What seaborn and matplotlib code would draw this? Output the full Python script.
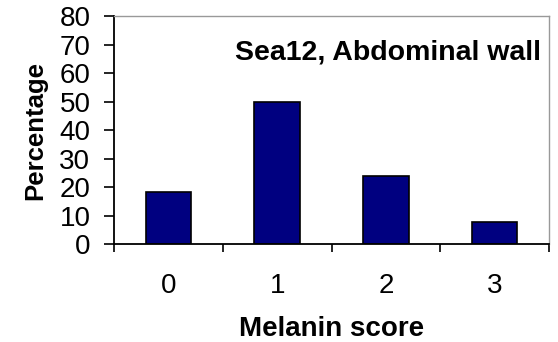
import pandas as pd
import matplotlib
matplotlib.use("Agg")
import matplotlib.pyplot as plt
import seaborn as sns
from matplotlib.ticker import FixedLocator

# data
scores = ["0", "1", "2", "3"]
percentages = [18.2, 49.8, 23.9, 7.8]

title = "Sea12, Abdominal wall"

sns.set_theme(style="white")
plt.rcParams['font.family'] = ['Liberation Sans', 'DejaVu Sans']
plt.rcParams['text.color'] = 'black'
plt.rcParams['axes.labelcolor'] = 'black'
plt.rcParams['xtick.color'] = 'black'
plt.rcParams['ytick.color'] = 'black'

df = pd.DataFrame({"score": scores, "pct": percentages})

fig = plt.figure(figsize=(5.58, 3.42), dpi=100)
ax = fig.add_axes([0.2043, 0.2865, 0.7796, 0.6667])

sns.barplot(data=df, x="score", y="pct", color="#000080", saturation=1,
            edgecolor="black", linewidth=1.2, width=0.42, ax=ax)

ax.set_ylim(0, 80)
ax.set_xlim(-0.5, len(scores) - 0.5)
ax.set_yticks(range(0, 81, 10))

# category ticks sit between the bars
ax.tick_params(axis="x", which="major", length=0, labelsize=20, pad=21)
ax.xaxis.set_minor_locator(FixedLocator([i - 0.5 for i in range(len(scores) + 1)]))
ax.tick_params(axis="x", which="minor", bottom=True, direction="out", length=6,
               width=1.2, color="black")
ax.tick_params(axis="y", left=True, direction="out", length=7, width=1.2,
               color="black", labelsize=20, pad=10)

for s in ["left", "bottom"]:
    ax.spines[s].set_color("black")
    ax.spines[s].set_linewidth(1.3)
for s in ["top", "right"]:
    ax.spines[s].set_color("#999999")
    ax.spines[s].set_linewidth(1.0)

ax.set_xlabel("Melanin score", fontsize=20, fontweight="bold", labelpad=12)
ax.set_ylabel("Percentage", fontsize=18.5, fontweight="bold", labelpad=9)

ax.text(0.982, 0.842, title, transform=ax.transAxes, ha="right", va="center",
        fontsize=20.5, fontweight="bold")

fig.savefig("out.png", dpi=100)
